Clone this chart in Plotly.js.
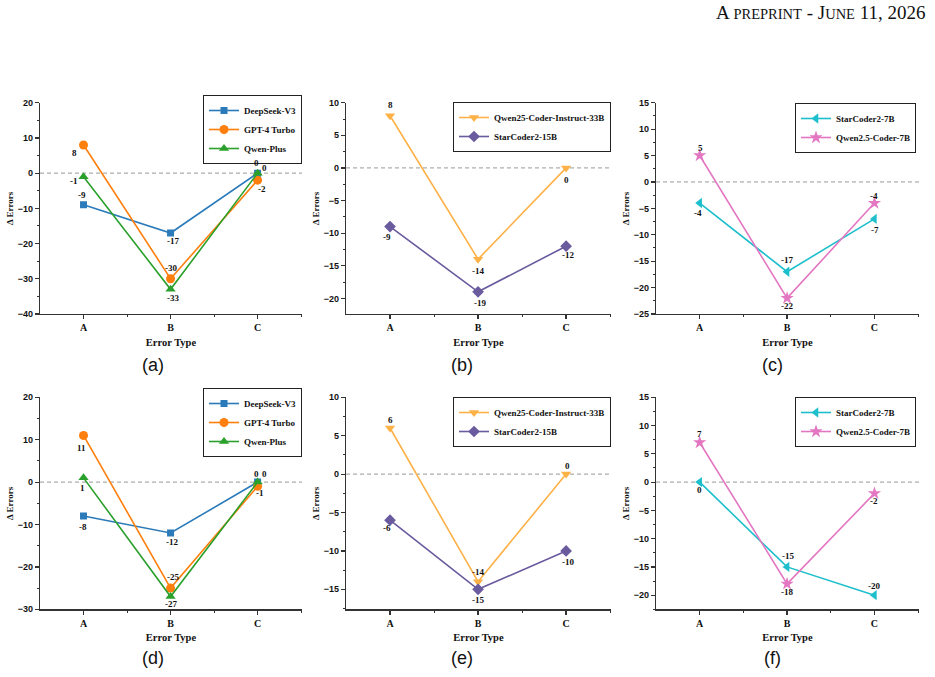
<!DOCTYPE html>
<html><head><meta charset="utf-8">
<script src="https://cdn.plot.ly/plotly-3.0.1.min.js"></script>
<style>html,body{margin:0;padding:0;background:#fff}</style>
</head><body><div id="chart" style="width:935px;height:677px"></div>
<script>
// ---------- data ----------
const categories = ['A', 'B', 'C'];
const panelCaptions = ['(a)', '(b)', '(c)', '(d)', '(e)', '(f)'];
const xAxisTitle = 'Error Type';
const yAxisTitle = 'Δ Errors';

const a_deepseekV3 = [-9, -17, 0];
const a_gpt4Turbo = [8, -30, -2];
const a_qwenPlus = [-1, -33, 0];

const b_qwen25Coder33B = [8, -14, 0];
const b_starCoder2_15B = [-9, -19, -12];

const c_starCoder2_7B = [-4, -17, -7];
const c_qwen25Coder7B = [5, -22, -4];

const d_deepseekV3 = [-8, -12, 0];
const d_gpt4Turbo = [11, -25, -1];
const d_qwenPlus = [1, -27, 0];

const e_qwen25Coder33B = [6, -14, 0];
const e_starCoder2_15B = [-6, -15, -10];

const f_starCoder2_7B = [0, -15, -20];
const f_qwen25Coder7B = [7, -18, -2];

// ---------- styles ----------
const ST = {
  deepseek: {name: 'DeepSeek-V3', color: '#2b7bba', symbol: 'square', size: 7},
  gpt: {name: 'GPT-4 Turbo', color: '#ff7f0e', symbol: 'circle', size: 9},
  qwenplus: {name: 'Qwen-Plus', color: '#2ca02c', symbol: 'triangle-up', size: 9},
  qwen33: {name: 'Qwen25-Coder-Instruct-33B', color: '#fdb147', symbol: 'triangle-down', size: 9},
  star15: {name: 'StarCoder2-15B', color: '#6a5a9e', symbol: 'diamond', size: 9},
  star7: {name: 'StarCoder2-7B', color: '#1ebfcc', symbol: 'triangle-left', size: 9},
  qwen7: {name: 'Qwen2.5-Coder-7B', color: '#e377c2', symbol: 'star', size: 10}
};

const panels = [
  {yr: [-40, 20], dt: 10, series: [
    {st: 'deepseek', v: a_deepseekV3, off: [[-2, 10], [2, -8], [-1, 10]]},
    {st: 'gpt', v: a_gpt4Turbo, off: [[-9, -8], [0, 11], [4, -9]]},
    {st: 'qwenplus', v: a_qwenPlus, off: [[-10, -4], [2, -9], [7, 5]]}]},
  {yr: [-22.4, 10], dt: 5, series: [
    {st: 'qwen33', v: b_qwen25Coder33B, off: [[0, 11], [0, -12], [0, -12]]},
    {st: 'star15', v: b_starCoder2_15B, off: [[-3, -10], [2, -11], [2, -9]]}]},
  {yr: [-25, 15], dt: 5, series: [
    {st: 'star7', v: c_starCoder2_7B, off: [[-2, -10], [0, 12], [1, -11]]},
    {st: 'qwen7', v: c_qwen25Coder7B, off: [[1, 8], [0, -8], [0, 7]]}]},
  {yr: [-30, 20], dt: 10, series: [
    {st: 'deepseek', v: d_deepseekV3, off: [[-1, -11], [1, -9], [-1, 8]]},
    {st: 'gpt', v: d_gpt4Turbo, off: [[-2, -13], [2, 11], [2, -7]]},
    {st: 'qwenplus', v: d_qwenPlus, off: [[-1, -10], [0, -7], [7, 8]]}]},
  {yr: [-17.6, 10], dt: 5, series: [
    {st: 'qwen33', v: e_qwen25Coder33B, off: [[0, 8], [0, 10], [1, 8]]},
    {st: 'star15', v: e_starCoder2_15B, off: [[-3, -8], [0, -11], [2, -11]]}]},
  {yr: [-22.5, 15], dt: 5, series: [
    {st: 'star7', v: f_starCoder2_7B, off: [[0, -8], [1, 11], [0, 9]]},
    {st: 'qwen7', v: f_qwen25Coder7B, off: [[0, 9], [0, -8], [0, -8]]}]}
];

// geometry (px)
const W = 935, H = 677;
const cols = [[40, 302], [346, 611], [656, 919]];
const rows = [[102.7, 314], [397.3, 609.3]];
const legendPos = [[302, 95], [611, 102], [916, 103], [302, 388], [611, 397], [916, 397]];
const captionPos = [[153, 365], [462, 365], [772, 365], [153, 658], [462, 658], [772, 658]];

const serifBold = {family: 'Liberation Serif, Times New Roman, serif', weight: 'bold', color: '#111'};
const axisColor = '#333';

const xIdx = categories.map((c, i) => i);
const traces = [];
const annotations = [];
const shapes = [];
const layout = {
  width: W, height: H,
  margin: {l: 0, r: 0, t: 0, b: 0},
  paper_bgcolor: '#fff', plot_bgcolor: '#fff',
  showlegend: true,
  annotations, shapes
};

panels.forEach((p, k) => {
  const r = Math.floor(k / 3), c = k % 3;
  const sfx = k === 0 ? '' : String(k + 1);
  const xa = 'x' + sfx, ya = 'y' + sfx;
  const legName = 'legend' + sfx;
  layout['xaxis' + sfx] = {
    domain: [cols[c][0] / W, cols[c][1] / W],
    range: [-0.5, 2.51], anchor: ya,
    tickmode: 'array', tickvals: xIdx, ticktext: categories,
    ticks: 'outside', ticklen: 4, tickwidth: 1.2, tickcolor: axisColor,
    minor: {tickmode: 'array', tickvals: [0.5, 1.5, 2.5], ticks: 'outside', ticklen: 2, tickwidth: 1, tickcolor: axisColor},
    showline: true, linecolor: axisColor, linewidth: 1.2,
    showgrid: false, zeroline: false, fixedrange: true,
    tickfont: Object.assign({size: 10}, serifBold),
    title: {text: xAxisTitle, font: Object.assign({size: 10.5}, serifBold), standoff: 6}
  };
  layout['yaxis' + sfx] = {
    domain: [1 - rows[r][1] / H, 1 - rows[r][0] / H],
    range: p.yr, anchor: xa,
    dtick: p.dt, tick0: 0,
    ticks: 'outside', ticklen: 4, tickwidth: 1.2, tickcolor: axisColor,
    minor: {dtick: p.dt / 2, tick0: 0, ticks: 'outside', ticklen: 2, tickwidth: 1, tickcolor: axisColor},
    showline: true, linecolor: axisColor, linewidth: 1.2,
    showgrid: false, zeroline: false, fixedrange: true,
    tickfont: {family: 'Liberation Sans, Arial, sans-serif', weight: 'bold', size: 9, color: '#111'},
    title: {text: yAxisTitle, font: Object.assign({size: 9}, serifBold), standoff: 2}
  };
  layout[legName] = {
    x: legendPos[k][0] / W, y: 1 - legendPos[k][1] / H,
    xanchor: 'right', yanchor: 'top', xref: 'paper', yref: 'paper',
    bgcolor: 'rgba(255,255,255,0.9)', bordercolor: '#222', borderwidth: 1,
    font: Object.assign({size: 9}, serifBold),
    tracegroupgap: 0
  };
  shapes.push({type: 'line', xref: xa + ' domain', yref: ya, x0: 0, x1: 1, y0: 0, y1: 0,
    line: {color: '#999', width: 1, dash: '4px,3px'}, layer: 'below'});
  p.series.forEach(s => {
    const st = ST[s.st];
    traces.push({
      type: 'scatter', mode: 'lines+markers', x: xIdx, y: s.v,
      xaxis: xa, yaxis: ya, name: st.name, legend: legName,
      line: {color: st.color, width: 1.6},
      marker: {color: st.color, symbol: st.symbol, size: st.size},
      hoverinfo: 'skip'
    });
    s.v.forEach((v, i) => {
      annotations.push({
        xref: xa, yref: ya, x: xIdx[i], y: v, text: String(v), showarrow: false,
        xshift: s.off[i][0], yshift: s.off[i][1],
        font: Object.assign({size: 9}, serifBold)
      });
    });
  });
  annotations.push({
    xref: 'paper', yref: 'paper', x: captionPos[k][0] / W, y: 1 - captionPos[k][1] / H,
    text: panelCaptions[k], showarrow: false, xanchor: 'center', yanchor: 'middle',
    font: {family: 'Liberation Sans, Arial, sans-serif', size: 18, color: '#111'}
  });
});

annotations.push({
  xref: 'paper', yref: 'paper', x: 928 / W, y: 1 - 12 / H, xanchor: 'right', yanchor: 'middle',
  showarrow: false,
  text: 'A <span style="font-size:14.5px">PREPRINT</span> - J<span style="font-size:14.5px">UNE</span> 11, 2026',
  font: {family: 'Liberation Serif, Times New Roman, serif', size: 19, color: '#111'}
});

Plotly.newPlot('chart', traces, layout, {displayModeBar: false, staticPlot: true});
</script>
</body></html>
